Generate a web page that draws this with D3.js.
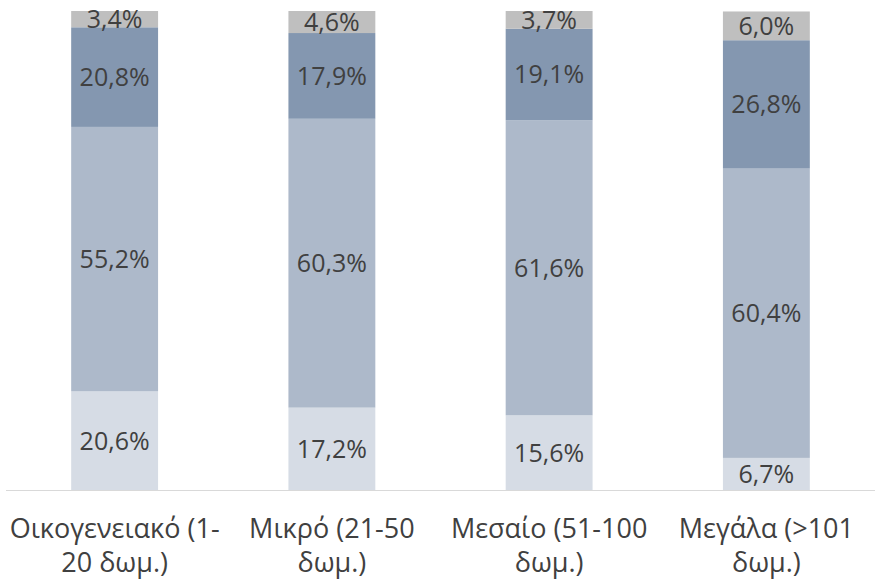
<!DOCTYPE html>
<html>
<head>
<meta charset="utf-8">
<script src="https://cdn.jsdelivr.net/npm/d3@7"></script>
<style>
  body { margin: 0; background: #fff; }
  text { font-family: "Open Sans", sans-serif; fill: #404040; }
</style>
</head>
<body>
<script>
// Categories (hotel size) and the four stacked shares, bottom to top
const categories = ["Οικογενειακό (1-20 δωμ.)", "Μικρό (21-50 δωμ.)", "Μεσαίο (51-100 δωμ.)", "Μεγάλα (>101 δωμ.)"];
const categoryLines = [["Οικογενειακό (1-", "20 δωμ.)"], ["Μικρό (21-50", "δωμ.)"], ["Μεσαίο (51-100", "δωμ.)"], ["Μεγάλα (>101", "δωμ.)"]];
const seriesKeys = ["s1", "s2", "s3", "s4"];
const s1 = [20.6, 17.2, 15.6, 6.7];
const s2 = [55.2, 60.3, 61.6, 60.4];
const s3 = [20.8, 17.9, 19.1, 26.8];
const s4 = [3.4, 4.6, 3.7, 6.0];
const colors = ["#d6dce5", "#adb9ca", "#8497b0", "#bfbfbf"];

const w = 875, h = 581;
const plotLeft = 6, plotRight = 875, plotTop = 11, plotBottom = 490;

const rows = categories.map((c, i) => ({ cat: c, s1: s1[i], s2: s2[i], s3: s3[i], s4: s4[i] }));
const stacked = d3.stack().keys(seriesKeys)(rows);

const x = d3.scaleBand().domain(categories).range([plotLeft, plotRight]).paddingInner(0.6).paddingOuter(0.3);
const y = d3.scaleLinear().domain([0, 100]).range([plotBottom, plotTop]);

const svg = d3.select("body").append("svg").attr("width", w).attr("height", h);

// bars
const layers = svg.selectAll("g.layer")
  .data(stacked)
  .enter().append("g")
  .attr("class", "layer")
  .attr("fill", (d, i) => colors[i]);

layers.selectAll("rect")
  .data(d => d)
  .enter().append("rect")
  .attr("x", d => x(d.data.cat))
  .attr("y", d => y(d[1]))
  .attr("width", x.bandwidth())
  .attr("height", d => y(d[0]) - y(d[1]));

// value labels
stacked.forEach(layer => {
  svg.append("g").selectAll("text")
    .data(layer)
    .enter().append("text")
    .attr("x", d => x(d.data.cat) + x.bandwidth() / 2)
    .attr("y", d => (y(d[0]) + y(d[1])) / 2)
    .attr("dy", "0.36em")
    .attr("text-anchor", "middle")
    .style("font-size", "25px")
    .text(d => d3.format(".1f")(d.data[layer.key]).replace(".", ",") + "%");
});

// x axis baseline
svg.append("line")
  .attr("x1", plotLeft).attr("x2", plotRight)
  .attr("y1", plotBottom + 0.5).attr("y2", plotBottom + 0.5)
  .attr("stroke", "#d9d9d9").attr("stroke-width", 1);

// category labels, two lines each
const catG = svg.append("g").selectAll("text")
  .data(categories)
  .enter().append("text")
  .attr("text-anchor", "middle")
  .style("font-size", "27px");

catG.selectAll("tspan")
  .data((d, i) => categoryLines[i].map(t => ({ t, c: d })))
  .enter().append("tspan")
  .attr("x", d => x(d.c) + x.bandwidth() / 2)
  .attr("y", (d, j) => 538 + j * 34)
  .text(d => d.t);
</script>
</body>
</html>
